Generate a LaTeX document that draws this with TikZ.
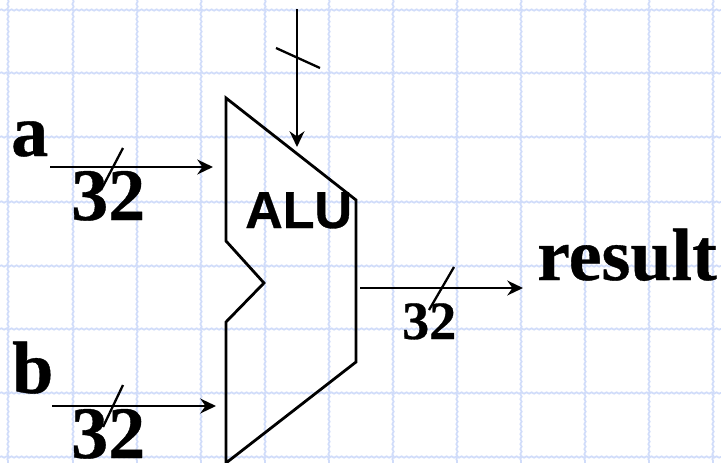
\documentclass[tikz,border=0pt]{standalone}
\usepackage{fontspec}
\setmainfont[BoldFeatures={FakeBold=0.5}]{Liberation Serif}
\newfontfamily\alufont[BoldFeatures={FakeBold=0.6}]{Liberation Sans}
\usetikzlibrary{arrows.meta,decorations.pathmorphing}
\definecolor{gridblue}{RGB}{208,220,250}

\begin{document}
\begin{tikzpicture}[every node/.style={inner sep=0pt, anchor=base west}, >={Stealth[length=5.5mm, width=5.2mm, inset=1.8mm]}, x=1pt, y=-1pt,
	gridline/.style={draw=gridblue, line width=1.7pt, decorate, decoration={snake, amplitude=0.7pt, segment length=5pt}},
	bigtext/.style={font=\fontsize{74}{74}\selectfont\bfseries},
	smalltext/.style={font=\fontsize{54}{54}\selectfont\bfseries},
	wire/.style={line width=2.6pt},
	slash/.style={line width=2.3pt}]
	\useasboundingbox (0,0) rectangle (721,463);
	\fill[white] (0,0) rectangle (721,463);
	% background grid
	\foreach \x in {8,73,137,201,265,329,393,457,521,585,649,713} {
		\draw[gridline] (\x,0) -- (\x,463);
	}
	\foreach \y in {10,73,137,202,266,329,393,457} {
		\draw[gridline] (0,\y) -- (721,\y);
	}
	% labels
	\node[bigtext] (a) at (11,156) {a};
	\node[bigtext] (b) at (12,393) {b};
	\node[bigtext] (aw) at (71,220) {32};
	\node[bigtext] (bw) at (71,458) {32};
	\node[smalltext] (rw) at (402,339) {32};
	\node[bigtext] (result) at (537,280) {result};
	\node[font=\alufont\fontsize{52}{52}\selectfont\bfseries] (alu) at (245,228) {ALU};
	% alu outline
	\draw[line width=2.8pt, line join=miter] (226,98) -- (356,200) -- (356,362) -- (226,463) -- (226,322) -- (264,283) -- (226,241) -- cycle;
	% wires
	\coordinate (astart) at (50,167);
	\coordinate (aend) at (213,167);
	\coordinate (bstart) at (52,406);
	\coordinate (bend) at (216,406);
	\coordinate (opstart) at (297,9);
	\coordinate (opend) at (297,147);
	\coordinate (rstart) at (360,288);
	\coordinate (rend) at (523,288);
	\draw[wire, ->] (astart) -- (aend);
	\draw[wire, ->] (bstart) -- (bend);
	\draw[wire, ->] (opstart) -- (opend);
	\draw[wire, ->] (rstart) -- (rend);
	% bus slashes
	\draw[slash] (123,148) -- (101,190);
	\draw[slash] (123,385) -- (103,427);
	\draw[slash] (276,48) -- (320,68);
	\draw[slash] (454,267) -- (429,310);
\end{tikzpicture}
\end{document}
